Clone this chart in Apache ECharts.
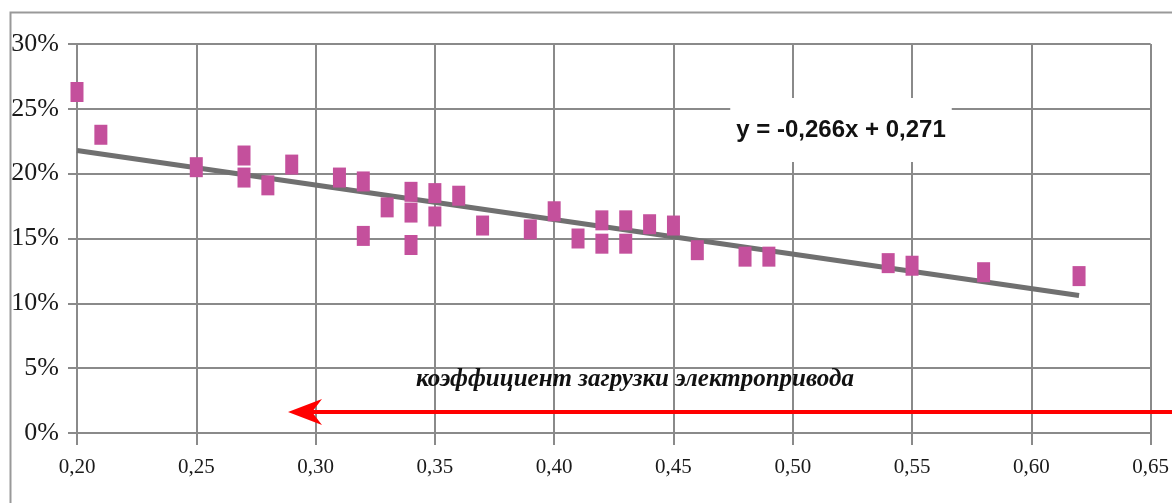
<!DOCTYPE html>
<html>
<head>
<meta charset="utf-8">
<script src="https://cdn.jsdelivr.net/npm/echarts@6/dist/echarts.min.js"></script>
<style>html,body{margin:0;padding:0;background:#fff}#c{width:1172px;height:503px}</style>
</head>
<body>
<div id="c"></div>
<script>
const loadX = [0.20,0.21,0.25,0.27,0.27,0.28,0.29,0.31,0.32,0.32,0.33,0.34,0.34,0.34,0.35,0.35,0.36,0.37,0.39,0.40,0.41,0.42,0.42,0.43,0.43,0.44,0.45,0.46,0.48,0.49,0.54,0.55,0.58,0.62];
const shareY = [0.263,0.230,0.205,0.214,0.197,0.191,0.207,0.197,0.194,0.152,0.174,0.186,0.170,0.145,0.185,0.167,0.183,0.160,0.157,0.171,0.150,0.164,0.146,0.164,0.146,0.161,0.160,0.141,0.136,0.136,0.131,0.129,0.124,0.121];
const trendSlope = -0.266;
const trendIntercept = 0.271;
const trendRange = [0.20, 0.62];
const equationText = 'y = -0,266x + 0,271';
const axisTitle = 'коэффициент загрузки электропривода';

const points = loadX.map((x, i) => [x, shareY[i]]);
const trend = trendRange.map(x => [x, trendSlope * x + trendIntercept]);

const chart = echarts.init(document.getElementById('c'));
const gridColor = '#8a8a8a';
chart.setOption({
  animation: false,
  backgroundColor: '#fff',
  grid: {left: 77, right: 15, top: 44, bottom: 70},
  xAxis: {
    type: 'value', min: 0.20, max: 0.65, interval: 0.05,
    axisLine: {show: true, lineStyle: {color: gridColor, width: 2}},
    axisTick: {show: true, length: 12, lineStyle: {color: gridColor, width: 2}},
    splitLine: {show: true, lineStyle: {color: gridColor, width: 2}},
    axisLabel: {margin: 24, fontFamily: 'Liberation Serif', fontSize: 21, color: '#1a1a1a',
      formatter: v => v.toFixed(2).replace('.', ',')}
  },
  yAxis: {
    type: 'value', min: 0, max: 0.30, interval: 0.05,
    axisLine: {show: true, lineStyle: {color: gridColor, width: 2}},
    axisTick: {show: true, length: 9, lineStyle: {color: gridColor, width: 2}},
    splitLine: {show: true, lineStyle: {color: gridColor, width: 2}},
    axisLabel: {margin: 18, fontFamily: 'Liberation Serif', fontSize: 26, color: '#1a1a1a',
      formatter: v => Math.round(v * 100) + '%'}
  },
  series: [
    {type: 'line', data: trend, symbol: 'none', z: 3,
     lineStyle: {color: '#707070', width: 5}},
    {type: 'scatter', data: points, symbol: 'rect', symbolSize: [13, 20], z: 4,
     itemStyle: {color: '#c4509c', opacity: 1}}
  ],
  graphic: [
    {type: 'rect', left: 8, top: 10, shape: {x: 0, y: 0, width: 1180, height: 510}, silent: true,
     style: {fill: 'none', stroke: '#999', lineWidth: 2}, z: 1},
    {type: 'text', x: 841, y: 130, z: 10,
     style: {text: equationText, fontFamily: 'Liberation Sans', fontWeight: 'bold', fontSize: 24,
       fill: '#111', align: 'center', verticalAlign: 'middle', backgroundColor: '#fff',
       padding: [22, 6, 18, 6]}},
    {type: 'text', x: 635, y: 380, z: 10,
     style: {text: axisTitle, fontFamily: 'Liberation Serif', fontWeight: 'bold', fontStyle: 'italic',
       fontSize: 25, fill: '#111', align: 'center', verticalAlign: 'middle'}},
    {type: 'line', z: 10, shape: {x1: 312, y1: 412, x2: 1180, y2: 412},
     style: {stroke: '#ff0000', lineWidth: 4}},
    {type: 'polygon', z: 10,
     shape: {points: [[288, 412], [322, 399], [312, 412], [322, 425]]},
     style: {fill: '#ff0000'}}
  ]
});
</script>
</body>
</html>
